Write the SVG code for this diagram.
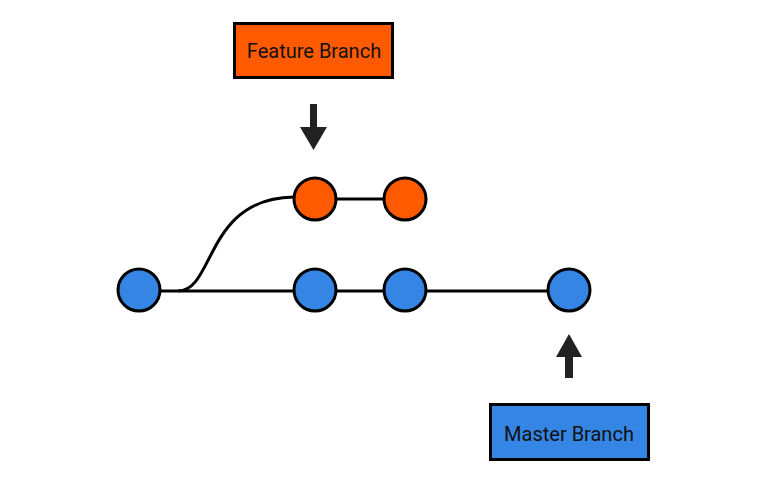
<svg xmlns="http://www.w3.org/2000/svg" width="780" height="481" viewBox="0 0 780 481">
<style>
.bg{fill:#ffffff}
.edge{fill:none;stroke:#000;stroke-width:3}
.arrow{fill:#222}
.o{fill:#FF5A00;stroke:#000;stroke-width:3}
.b{fill:#3585E5;stroke:#000;stroke-width:3}
.lbl{font-family:Roboto,"Liberation Sans",sans-serif;font-size:20px;fill:#111;text-anchor:middle}
</style>
<rect class="bg" x="0" y="0" width="780" height="481"/>
<g id="connectors">
<line class="edge" x1="161" y1="291" x2="547" y2="291"/>
<line class="edge" x1="337" y1="199" x2="383" y2="199"/>
<path class="edge" d="M178 291 C215 291 205 198 294 197"/>
<path class="arrow" d="M310 104 H317 V127 H327 L313.5 150 L300 127 H310 Z"/>
<path class="arrow" d="M565 378 H573 V357 H582 L569 334 L556 357 H565 Z"/>
</g>
<g id="feature-label">
<rect class="o" x="234.5" y="23.5" width="158" height="54"/>
<text class="lbl" x="314" y="58">Feature Branch</text>
</g>
<g id="master-label">
<rect class="b" x="490.5" y="404.5" width="158" height="55"/>
<text class="lbl" x="569" y="441">Master Branch</text>
</g>
<g id="f1"><circle class="o" cx="315" cy="199" r="21"/></g>
<g id="f2"><circle class="o" cx="405" cy="199" r="21"/></g>
<g id="m1"><circle class="b" cx="139" cy="290" r="21"/></g>
<g id="m2"><circle class="b" cx="315" cy="290" r="21"/></g>
<g id="m3"><circle class="b" cx="405" cy="290" r="21"/></g>
<g id="m4"><circle class="b" cx="569" cy="290" r="21"/></g>
</svg>
